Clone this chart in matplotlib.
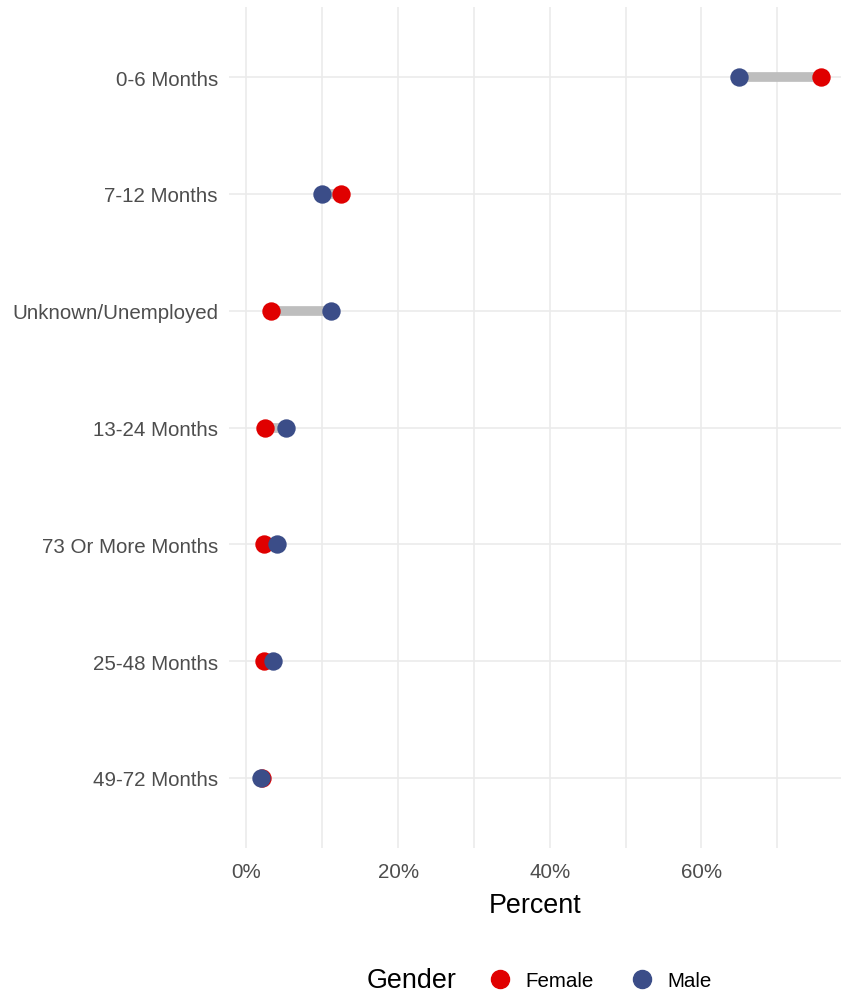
import numpy as np
import matplotlib.pyplot as plt
from matplotlib.lines import Line2D

plt.rcParams['font.family'] = ['Liberation Sans', 'DejaVu Sans']

categories = ["0-6 Months", "7-12 Months", "Unknown/Unemployed", "13-24 Months",
              "73 Or More Months", "25-48 Months", "49-72 Months"]
female = [75.8, 12.5, 3.3, 2.4, 2.3, 2.3, 2.1]
male = [65.0, 9.9, 11.2, 5.2, 4.0, 3.5, 1.9]

red = '#E00000'
blue = '#3B4D88'
grid_col = '#EBEBEB'

fig = plt.figure(figsize=(8.41, 9.95), dpi=100)
ax = fig.add_axes([229/841, 1 - 849/995, 612/841, 841/995])

y = np.arange(len(categories))
ax.hlines(y, female, male, color='#BEBEBE', lw=7, zorder=2)
ax.scatter(female, y, s=175, color=red, zorder=3, linewidths=0)
ax.scatter(male, y, s=175, color=blue, zorder=4, linewidths=0)

ax.set_xlim(-2.3, 78.4)
ax.set_ylim(len(categories) - 0.4, -0.6)
ax.set_yticks(y)
ax.set_yticklabels(categories)
ax.set_xticks([0, 20, 40, 60])
ax.set_xticklabels(['0%', '20%', '40%', '60%'])
ax.set_xticks([10, 30, 50, 70], minor=True)

ax.grid(True, which='both', color=grid_col, lw=1.2, zorder=0)
ax.set_axisbelow(True)
for s in ax.spines.values():
    s.set_visible(False)
ax.tick_params(axis='both', which='both', length=0, labelsize=14.8, labelcolor='#4D4D4D')
ax.tick_params(axis='y', pad=8)
ax.tick_params(axis='x', pad=10)
ax.set_xlabel('Percent', fontsize=19.4, labelpad=8)

fig.text(367/841, 1 - 981/995, 'Gender', fontsize=19.4, va='center', ha='left')
handles = [Line2D([], [], marker='o', ls='', color=red, markersize=13),
           Line2D([], [], marker='o', ls='', color=blue, markersize=13)]
fig.legend(handles, ['Female', 'Male'], loc='center left', ncol=2, frameon=False,
           bbox_to_anchor=(466/841, 1 - 982/995), fontsize=14.8,
           handletextpad=0.5, columnspacing=1.6, handlelength=1.5)

fig.savefig('out.png', dpi=100)
